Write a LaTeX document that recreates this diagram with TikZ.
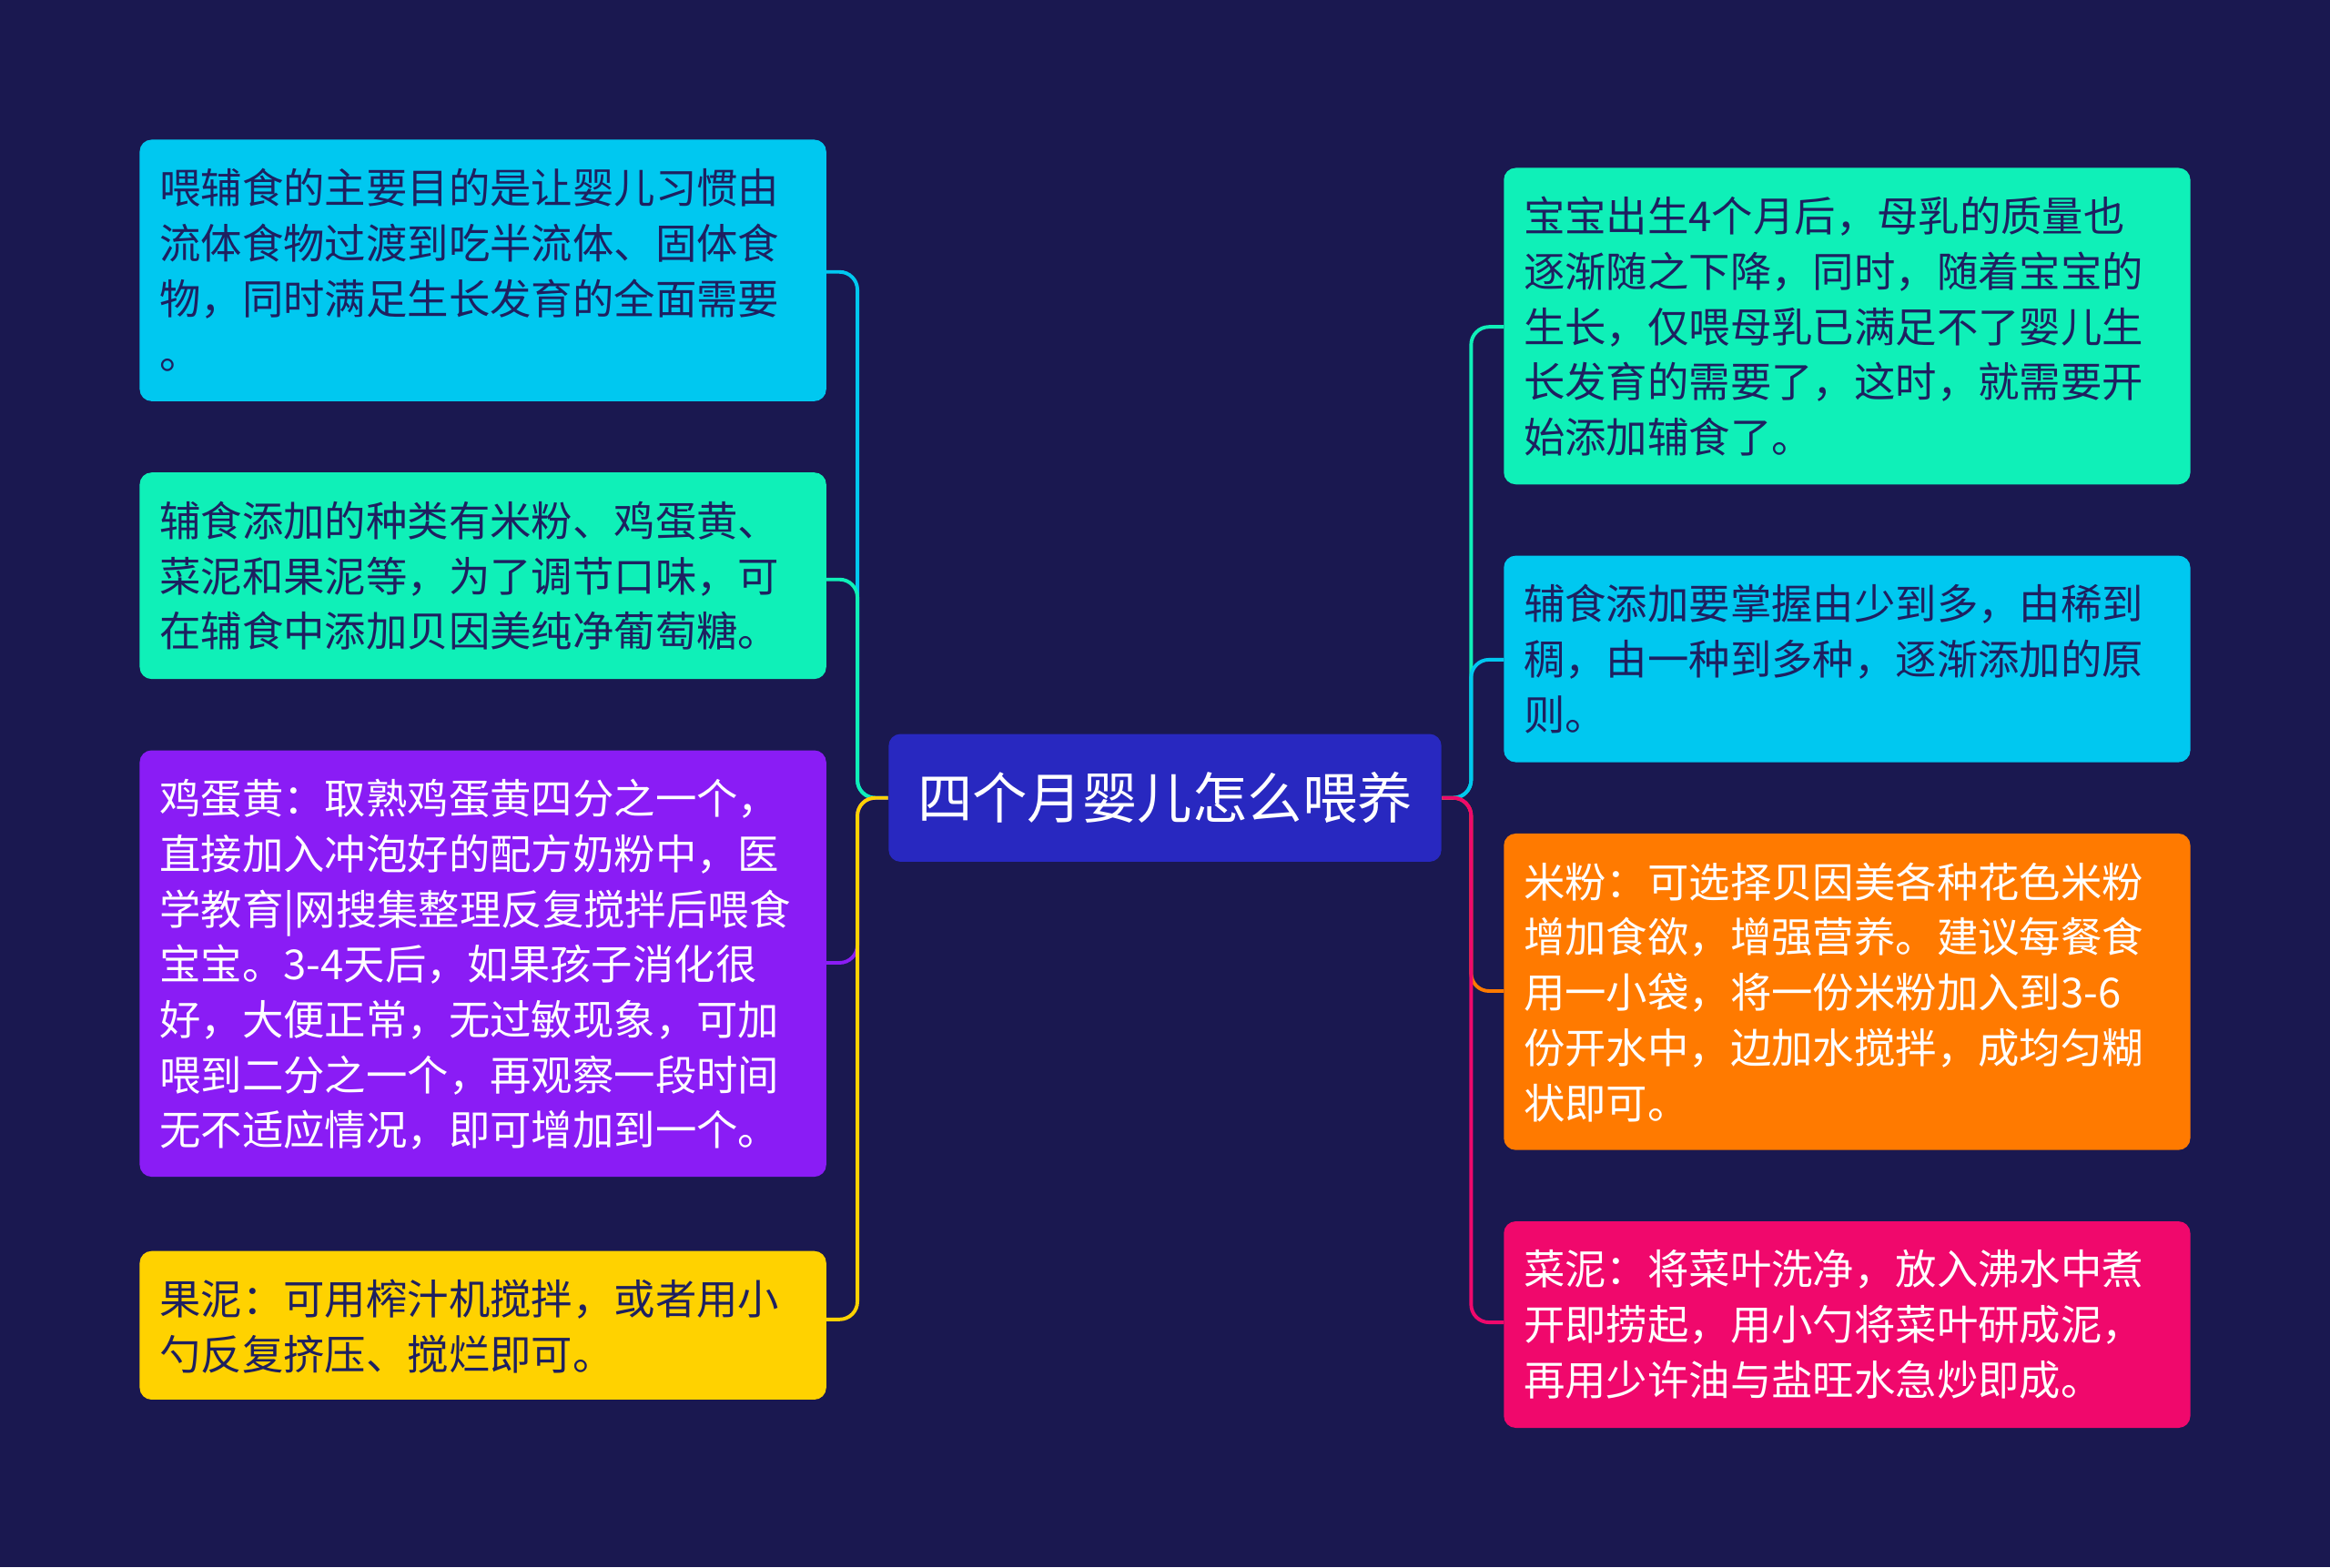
\documentclass[tikz,border=0pt]{standalone}
\usepackage{fontspec}
\setmainfont{Noto Sans CJK SC}
\begin{document}
\begin{tikzpicture}[x=0.5pt,y=-0.5pt,
 txt/.style={anchor=north west,align=left,font=\fontsize{13.9}{18.6}\selectfont,inner sep=0pt},
 conn/.style={line width=1.2pt,rounded corners=6pt}]
\definecolor{bg}{HTML}{1A1850}
\definecolor{dk}{HTML}{1E2060}
\definecolor{cy}{HTML}{00C8F0}
\definecolor{gr}{HTML}{0FF0B8}
\definecolor{pu}{HTML}{8A1CF5}
\definecolor{ye}{HTML}{FFD200}
\definecolor{ce}{HTML}{2828C0}
\definecolor{or}{HTML}{FF7A00}
\definecolor{pk}{HTML}{F0086C}
\fill[bg] (0,0) rectangle (1568,1055);
\fill[cy,rounded corners=4pt] (94,94) rectangle (556,270);
\fill[gr,rounded corners=4pt] (94,318) rectangle (556,457);
\fill[pu,rounded corners=4pt] (94,505) rectangle (556,792);
\fill[ye,rounded corners=4pt] (94,842) rectangle (556,942);
\fill[ce,rounded corners=4pt] (598,494) rectangle (970,580);
\fill[gr,rounded corners=4pt] (1012,113) rectangle (1474,326);
\fill[cy,rounded corners=4pt] (1012,374) rectangle (1474,513);
\fill[or,rounded corners=4pt] (1012,561) rectangle (1474,774);
\fill[pk,rounded corners=4pt] (1012,822) rectangle (1474,961);
\node[inner sep=0pt,minimum size=0pt] (cw) at (598,537) {};
\node[inner sep=0pt,minimum size=0pt] (ce) at (970,537) {};
\node[white,font=\fontsize{18.5}{20}\selectfont] (ct) at (784,537) {四个月婴儿怎么喂养};
\node[txt,text=dk] (l1) at (107,113) {喂辅食的主要目的是让婴儿习惯由\\流体食物过渡到吃半流体、固体食\\物，同时满足生长发育的全面需要\\。};
\node[txt,text=dk] (l2) at (107,337) {辅食添加的种类有米粉、鸡蛋黄、\\菜泥和果泥等，为了调节口味，可\\在辅食中添加贝因美纯净葡萄糖。};
\node[txt,text=white] (l3) at (107,524) {鸡蛋黄：取熟鸡蛋黄四分之一个，\\直接加入冲泡好的配方奶粉中，医\\学教育|网搜集整理反复搅拌后喂食\\宝宝。3-4天后，如果孩子消化很\\好，大便正常，无过敏现象，可加\\喂到二分之一个，再观察一段时间\\无不适应情况，即可增加到一个。};
\node[txt,text=dk] (l4) at (107,861) {果泥：可用榨汁机搅拌，或者用小\\勺反复挤压、搅烂即可。};
\node[txt,text=dk] (r1) at (1025,132) {宝宝出生4个月后，母乳的质量也\\逐渐随之下降，同时，随着宝宝的\\生长，仅喂母乳已满足不了婴儿生\\长发育的需要了，这时，就需要开\\始添加辅食了。};
\node[txt,text=dk] (r2) at (1025,393) {辅食添加要掌握由少到多，由稀到\\稠，由一种到多种，逐渐添加的原\\则。};
\node[txt,text=white] (r3) at (1025,580) {米粉：可选择贝因美各种花色米粉\\增加食欲，增强营养。建议每餐食\\用一小袋，将一份米粉加入到3-6\\份开水中，边加水搅拌，成均匀糊\\状即可。};
\node[txt,text=white] (r4) at (1025,841) {菜泥：将菜叶洗净，放入沸水中煮\\开即捞起，用小勺将菜叶研成泥，\\再用少许油与盐旺水急炒即成。};
\coordinate (a1) at (556,183);\coordinate (a2) at (556,390);\coordinate (a3) at (556,648);\coordinate (a4) at (556,888);
\coordinate (b1) at (1012,220);\coordinate (b2) at (1012,444);\coordinate (b3) at (1012,667);\coordinate (b4) at (1012,890);
\draw[conn,cy] (cw) -- (577,537) -- (577,183) -- (a1);
\draw[conn,gr] (cw) -- (577,537) -- (577,390) -- (a2);
\draw[conn,pu] (cw) -- (577,537) -- (577,648) -- (a3);
\draw[conn,ye] (cw) -- (577,537) -- (577,888) -- (a4);
\draw[conn,gr] (ce) -- (990,537) -- (990,220) -- (b1);
\draw[conn,cy] (ce) -- (990,537) -- (990,444) -- (b2);
\draw[conn,or] (ce) -- (990,537) -- (990,667) -- (b3);
\draw[conn,pk] (ce) -- (990,537) -- (990,890) -- (b4);
\end{tikzpicture}
\end{document}
